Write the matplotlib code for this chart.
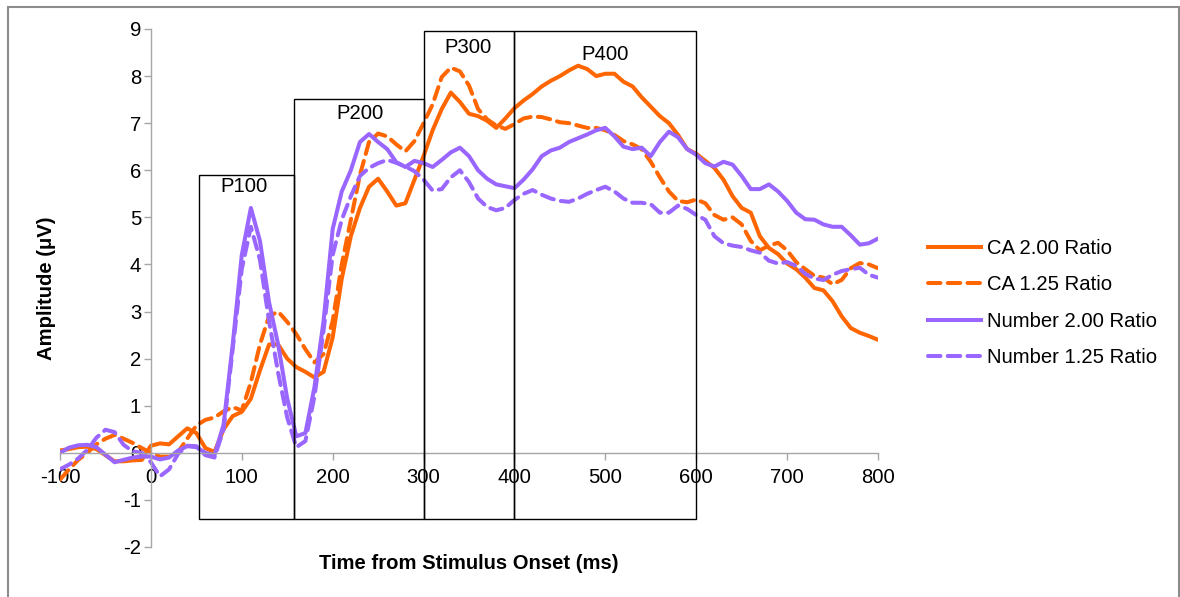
import matplotlib
matplotlib.use("Agg")
import matplotlib.pyplot as plt
from matplotlib.patches import Rectangle
from matplotlib.lines import Line2D
import numpy as np

plt.rcParams['font.family'] = ['Liberation Sans', 'DejaVu Sans']
plt.rcParams['axes.unicode_minus'] = False

# time axis (ms), 10 ms steps from -100 to 800
time_ms = np.arange(-100, 801, 10)

ca_200 = [0.05, 0.08, 0.12, 0.13, 0.08, -0.05, -0.18, -0.18, -0.16, -0.15,
          0.15, 0.2, 0.18, 0.35, 0.52, 0.42, 0.1, 0.02, 0.5, 0.78,
          0.87, 1.15, 1.75, 2.3, 2.3, 2.0, 1.82, 1.72, 1.6, 1.72,
          2.45, 3.7, 4.6, 5.2, 5.65, 5.82, 5.55, 5.25, 5.3, 5.8,
          6.3, 6.85, 7.3, 7.65, 7.45, 7.2, 7.15, 7.05, 6.9, 7.1,
          7.32, 7.48, 7.62, 7.78, 7.9, 8.0, 8.12, 8.22, 8.15, 8.0,
          8.05, 8.05, 7.88, 7.78, 7.55, 7.35, 7.15, 7.0, 6.75, 6.45,
          6.35, 6.2, 6.05, 5.8, 5.45, 5.2, 5.1, 4.6, 4.35, 4.22,
          4.02, 3.9, 3.72, 3.5, 3.45, 3.22, 2.9, 2.65, 2.55, 2.48,
          2.4]

ca_125 = [-0.57, -0.35, -0.15, 0.0, 0.18, 0.3, 0.38, 0.3, 0.21, 0.1,
          0.0, -0.08, -0.08, 0.02, 0.3, 0.58, 0.7, 0.75, 0.88, 0.97,
          0.9, 1.5, 2.3, 2.9, 3.0, 2.78, 2.52, 2.2, 1.92, 2.1,
          2.8, 4.0, 4.95, 5.9, 6.6, 6.78, 6.72, 6.55, 6.4, 6.62,
          7.0, 7.4, 7.98, 8.18, 8.1, 7.8, 7.3, 7.08, 6.95, 6.88,
          6.98, 7.1, 7.14, 7.13, 7.08, 7.02, 7.0, 6.95, 6.9, 6.9,
          6.85, 6.75, 6.62, 6.55, 6.45, 6.18, 5.85, 5.55, 5.35, 5.32,
          5.38, 5.3, 5.05, 4.95, 5.0, 4.85, 4.5, 4.3, 4.4, 4.46,
          4.3, 4.05, 3.9, 3.76, 3.72, 3.58, 3.67, 3.92, 4.03, 4.0,
          3.92]

num_200 = [0.0, 0.11, 0.16, 0.17, 0.12, -0.04, -0.2, -0.15, -0.1, -0.08,
           -0.08, -0.14, -0.1, 0.05, 0.14, 0.12, 0.0, -0.05, 0.6, 2.3,
           4.2, 5.2, 4.5, 3.2, 2.3, 1.15, 0.35, 0.42, 1.4, 2.8,
           4.75, 5.55, 6.0, 6.6, 6.77, 6.6, 6.45, 6.17, 6.07, 6.2,
           6.15, 6.07, 6.22, 6.38, 6.48, 6.3, 6.0, 5.82, 5.7, 5.66,
           5.62, 5.8, 6.02, 6.3, 6.42, 6.48, 6.6, 6.68, 6.76, 6.85,
           6.9, 6.72, 6.5, 6.45, 6.48, 6.3, 6.6, 6.82, 6.7, 6.45,
           6.33, 6.15, 6.08, 6.18, 6.12, 5.88, 5.6, 5.6, 5.7, 5.55,
           5.35, 5.1, 4.96, 4.95, 4.85, 4.8, 4.8, 4.62, 4.42, 4.45,
           4.55]

num_125 = [-0.35, -0.25, -0.12, 0.06, 0.32, 0.49, 0.44, 0.17, 0.03, 0.0,
           -0.2, -0.5, -0.35, -0.02, 0.15, 0.14, -0.05, -0.1, 0.5, 2.2,
           3.9, 4.8, 4.1, 2.8, 1.7, 0.75, 0.12, 0.25, 1.2, 2.6,
           4.2, 4.95, 5.45, 5.88, 6.05, 6.15, 6.22, 6.16, 6.08, 5.98,
           5.8, 5.57, 5.6, 5.85, 6.0, 5.75, 5.4, 5.22, 5.15, 5.2,
           5.37, 5.5, 5.58, 5.48, 5.4, 5.35, 5.33, 5.4, 5.5, 5.58,
           5.65, 5.55, 5.4, 5.31, 5.31, 5.28, 5.1, 5.1, 5.25, 5.18,
           5.05, 4.95, 4.6, 4.45, 4.4, 4.37, 4.3, 4.25, 4.08, 4.02,
           4.05, 3.97, 3.8, 3.7, 3.67, 3.78, 3.86, 3.9, 3.93, 3.78,
           3.72]

# component windows
comp_names = ['P100', 'P200', 'P300', 'P400']
comp_start = [53, 157, 300, 400]
comp_end = [157, 300, 400, 600]
comp_top = [5.9, 7.52, 8.96, 8.96]
comp_bottom = -1.4
label_x = [102, 230, 349, 500]
label_y = [5.65, 7.2, 8.6, 8.45]

orange = '#FF6600'
purple = '#9966FF'
FS = 14.6
LW = 2.9

fig = plt.figure(figsize=(11.8, 5.97), dpi=100)
ax = fig.add_axes([60 / 1180, 1 - 547 / 597, 818 / 1180, 518 / 597])

dash = (0, (3.1, 1.8))
ax.plot(time_ms, ca_200, color=orange, lw=LW, solid_capstyle='round', solid_joinstyle='round')
ax.plot(time_ms, ca_125, color=orange, lw=LW, linestyle=dash, dash_capstyle='round', dash_joinstyle='round')
ax.plot(time_ms, num_200, color=purple, lw=LW, solid_capstyle='round', solid_joinstyle='round')
ax.plot(time_ms, num_125, color=purple, lw=LW, linestyle=dash, dash_capstyle='round', dash_joinstyle='round')

for name, x0, x1, top, lx, ly in zip(comp_names, comp_start, comp_end, comp_top, label_x, label_y):
    ax.add_patch(Rectangle((x0, comp_bottom), x1 - x0, top - comp_bottom,
                           fill=False, edgecolor='black', lw=1.0, zorder=5))
    ax.text(lx, ly, name, ha='center', va='center', fontsize=FS)

ax.set_xlim(-100, 800)
ax.set_ylim(-2, 9)
ax.set_xticks(range(-100, 801, 100))
ax.set_yticks(range(-2, 10))

for s in ['top', 'right']:
    ax.spines[s].set_visible(False)
ax.spines['left'].set_position(('data', 0))
ax.spines['bottom'].set_position(('data', 0))
for s in ['left', 'bottom']:
    ax.spines[s].set_color('#A6A6A6')
    ax.spines[s].set_linewidth(1.0)
ax.tick_params(axis='both', colors='#A6A6A6', labelcolor='black', labelsize=FS,
               length=5, width=1.0, direction='out')
ax.tick_params(axis='x', pad=6)
ax.tick_params(axis='y', pad=2)

ax.text(0.5, -0.031, 'Time from Stimulus Onset (ms)', transform=ax.transAxes,
        ha='center', va='center', fontsize=FS, fontweight='bold')
ax.text(-0.017, 0.5, 'Amplitude (μV)', transform=ax.transAxes, rotation=90,
        ha='center', va='center', fontsize=FS, fontweight='bold')

handles = [Line2D([], [], color=orange, lw=LW),
           Line2D([], [], color=orange, lw=LW, linestyle=dash, dash_capstyle='round'),
           Line2D([], [], color=purple, lw=LW),
           Line2D([], [], color=purple, lw=LW, linestyle=dash, dash_capstyle='round')]
fig.legend(handles, ['CA 2.00 Ratio', 'CA 1.25 Ratio', 'Number 2.00 Ratio', 'Number 1.25 Ratio'],
           loc='center left', bbox_to_anchor=(928 / 1180, 1 - 303 / 597),
           bbox_transform=fig.transFigure, frameon=False, fontsize=FS,
           handlelength=2.6, handletextpad=0.3, labelspacing=0.85,
           borderpad=0, borderaxespad=0)

fig.patches.append(Rectangle((8 / 1180, -0.05), 1171 / 1180, 1.05 - 7 / 597,
                             transform=fig.transFigure, fill=False,
                             edgecolor='#8C8C8C', lw=1.5))

fig.savefig('out.png', dpi=100)
